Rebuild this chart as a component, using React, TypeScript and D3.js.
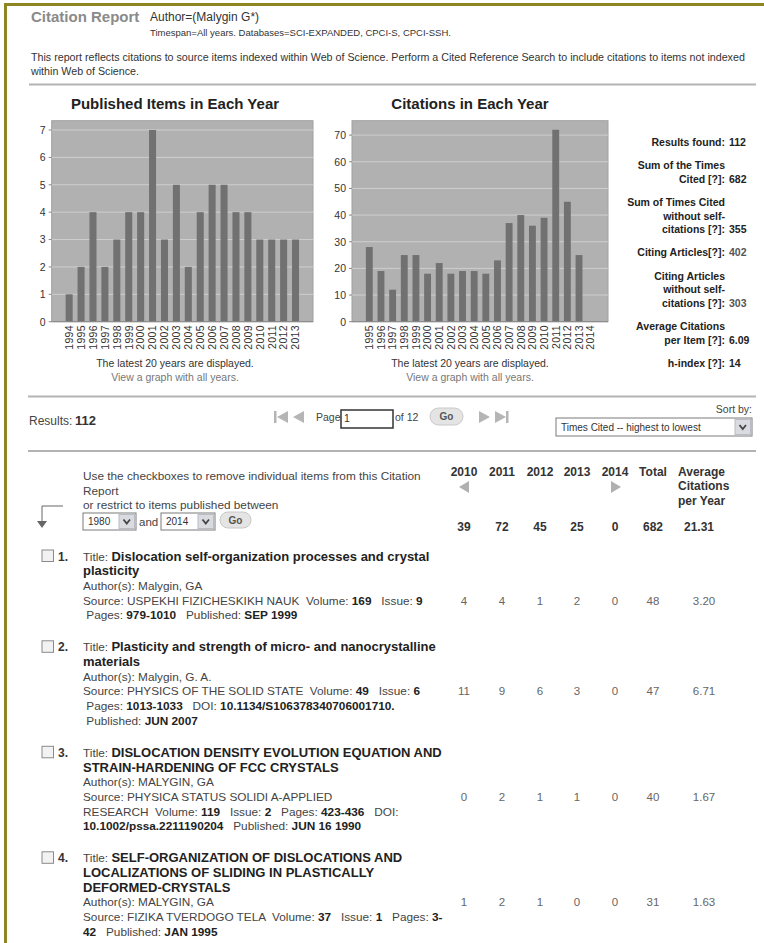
import React from "react";
import * as d3 from "d3";

const FONT = "'Liberation Sans', Arial, Helvetica, sans-serif";

// ---------- chart data ----------
const pubYears = ["1994","1995","1996","1997","1998","1999","2000","2001","2002","2003","2004","2005","2006","2007","2008","2009","2010","2011","2012","2013"];
const pubCounts = [1,2,4,2,3,4,4,7,3,5,2,4,5,5,4,4,3,3,3,3];
const pubTicks = [0,1,2,3,4,5,6,7];

const citeYears = ["1995","1996","1997","1998","1999","2000","2001","2002","2003","2004","2005","2006","2007","2008","2009","2010","2011","2012","2013","2014"];
const citeCounts = [28,19,12,25,25,18,22,18,19,19,18,23,37,40,36,39,72,45,25,0];
const citeTicks = [0,10,20,30,40,50,60,70];

// ---------- stats panel ----------
const statLabels = [
  ["Results found:"],
  ["Sum of the Times","Cited [?]:"],
  ["Sum of Times Cited","without self-","citations [?]:"],
  ["Citing Articles[?]:"],
  ["Citing Articles","without self-","citations [?]:"],
  ["Average Citations","per Item [?]:"],
  ["h-index [?]:"],
];
const statValues = ["112","682","355","402","303","6.09","14"];
const statIsLink = [false,false,false,true,true,false,false];

// ---------- table ----------
const colHeads = ["2010","2011","2012","2013","2014","Total"];
const totalsRow = ["39","72","45","25","0","682","21.31"];

type Seg = [string, boolean];
const itemNumbers = ["1.","2.","3.","4."];
const itemTitleLines = [
  ["Dislocation self-organization processes and crystal","plasticity"],
  ["Plasticity and strength of micro- and nanocrystalline","materials"],
  ["DISLOCATION DENSITY EVOLUTION EQUATION AND","STRAIN-HARDENING OF FCC CRYSTALS"],
  ["SELF-ORGANIZATION OF DISLOCATIONS AND","LOCALIZATIONS OF SLIDING IN PLASTICALLY","DEFORMED-CRYSTALS"],
];
const itemAuthors = ["Malygin, GA","Malygin, G. A.","MALYGIN, GA","MALYGIN, GA"];
const itemSourceLines: Seg[][][] = [
  [
    [["Source: USPEKHI FIZICHESKIKH NAUK  Volume: ",false],["169",true],["   Issue: ",false],["9",true]],
    [[" Pages: ",false],["979-1010",true],["   Published: ",false],["SEP 1999",true]],
  ],
  [
    [["Source: PHYSICS OF THE SOLID STATE  Volume: ",false],["49",true],["   Issue: ",false],["6",true]],
    [[" Pages: ",false],["1013-1033",true],["   DOI: ",false],["10.1134/S106378340706001710.",true]],
    [[" Published: ",false],["JUN 2007",true]],
  ],
  [
    [["Source: PHYSICA STATUS SOLIDI A-APPLIED",false]],
    [["RESEARCH  Volume: ",false],["119",true],["   Issue: ",false],["2",true],["   Pages: ",false],["423-436",true],["   DOI:",false]],
    [["10.1002/pssa.2211190204",true],["   Published: ",false],["JUN 16 1990",true]],
  ],
  [
    [["Source: FIZIKA TVERDOGO TELA  Volume: ",false],["37",true],["   Issue: ",false],["1",true],["   Pages: ",false],["3-",true]],
    [["42",true],["   Published: ",false],["JAN 1995",true]],
  ],
];
const itemCites = [
  ["4","4","1","2","0","48","3.20"],
  ["11","9","6","3","0","47","6.71"],
  ["0","2","1","1","0","40","1.67"],
  ["1","2","1","0","0","31","1.63"],
];

const colX = [464, 502, 540, 577, 615, 653, 699];

type Plot = { l: number; r: number; t: number; b: number };

function BarChart(props: { years: string[]; values: number[]; ticks: number[]; yMax: number; plot: Plot; title: string; cx: number }) {
  const { years, values, ticks, yMax, plot, title, cx } = props;
  const x = d3.scaleBand<string>().domain(years).range([plot.l + 11.5, plot.r - 11.5]).paddingInner(0.41).paddingOuter(0.205);
  const y = d3.scaleLinear().domain([0, yMax]).range([plot.b, plot.t]);
  const bw = x.bandwidth();
  return (
    <g>
      <text x={cx} y={109} textAnchor="middle" fontSize={15} fontWeight="bold" fill="#222">{title}</text>
      <rect x={plot.l} y={plot.t} width={plot.r - plot.l} height={plot.b - plot.t} fill="#b1b1b1" stroke="#a0a0a0" />
      {ticks.map((t) => (
        <g key={t}>
          {t > 0 && <line x1={plot.l} x2={plot.r} y1={y(t)} y2={y(t)} stroke="#cfcfcf" strokeWidth={1} />}
          <line x1={plot.l - 3} x2={plot.l} y1={y(t)} y2={y(t)} stroke="#888" />
          <text x={plot.l - 6} y={y(t) + 3.8} textAnchor="end" fontSize={10.5} fill="#333">{t}</text>
        </g>
      ))}
      {years.map((yr, i) => (
        <rect key={yr} x={x(yr)} y={y(values[i])} width={bw} height={plot.b - y(values[i])} fill="#717171" />
      ))}
      <line x1={plot.l} x2={plot.r} y1={plot.b} y2={plot.b} stroke="#888" />
      {years.map((yr) => (
        <text key={"l" + yr} transform={`translate(${(x(yr) as number) + bw / 2 + 3.8},${plot.b + 3.5}) rotate(-90)`} textAnchor="end" fontSize={10.5} fill="#333" letterSpacing={0.3}>{yr}</text>
      ))}
      <text x={cx} y={367} textAnchor="middle" fontSize={10.5} fill="#333">The latest 20 years are displayed.</text>
      <text x={cx} y={381} textAnchor="middle" fontSize={10.5} fill="#777">View a graph with all years.</text>
    </g>
  );
}

function Checkbox(props: { x: number; y: number }) {
  return <rect x={props.x} y={props.y} width={11.5} height={11.5} fill="#f2f2f2" stroke="#8a8a8a" strokeWidth={1} />;
}

function GoButton(props: { x: number; y: number; w: number; h: number }) {
  const { x, y, w, h } = props;
  return (
    <g>
      <rect x={x} y={y} width={w} height={h} rx={h / 2} fill="#e4e4e4" stroke="#c8c8c8" />
      <text x={x + w / 2} y={y + h / 2 + 3.5} textAnchor="middle" fontSize={10} fontWeight="bold" fill="#555">Go</text>
    </g>
  );
}

function Select(props: { x: number; y: number; w: number; h: number; label: string }) {
  const { x, y, w, h, label } = props;
  const bx = x + w - 17;
  return (
    <g>
      <rect x={x} y={y} width={w} height={h} fill="#fff" stroke="#7a7a7a" />
      <text x={x + 5} y={y + h / 2 + 3.5} fontSize={10} fill="#333">{label}</text>
      <rect x={bx} y={y + 1.5} width={15.5} height={h - 3} fill="#d9dbe0" stroke="#b9bcc4" />
      <path d={`M${bx + 4.5},${y + h / 2 - 2} L${bx + 7.75},${y + h / 2 + 2} L${bx + 11},${y + h / 2 - 2}`} fill="none" stroke="#444" strokeWidth={1.8} />
    </g>
  );
}

function Segs(props: { x: number; y: number; segs: Seg[]; size: number; boldSize?: number }) {
  const { x, y, segs, size, boldSize } = props;
  return (
    <text x={x} y={y} fontSize={size} fill="#444" style={{ whiteSpace: "pre" }}>
      {segs.map((s, i) => (
        <tspan key={i} fontWeight={s[1] ? "bold" : "normal"} fill={s[1] ? "#222" : "#444"} fontSize={s[1] && boldSize ? boldSize : size}>{s[0]}</tspan>
      ))}
    </text>
  );
}

export default function App() {
  const plot1: Plot = { l: 51.7, r: 313, t: 120.7, b: 321.7 };
  const plot2: Plot = { l: 352, r: 608, t: 120.7, b: 321.7 };

  // stats positions
  const statLineH = 13.3;
  const statGap = 23.6;
  let sy = 141.7;
  const statBlocks = statLabels.map((lines, i) => {
    const start = sy;
    sy = start + (lines.length - 1) * statLineH + statGap;
    return { lines, start, i };
  });

  // item positions
  const lineH = 14.7;
  const itemGap = 32;
  let iy = 556;
  const items = itemTitleLines.map((titles, i) => {
    const lines: { segs: Seg[]; kind: string }[] = [];
    titles.forEach((t, k) => lines.push({ segs: k === 0 ? [["Title: ", false], [t, true]] : [[t, true]], kind: "title" }));
    lines.push({ segs: [["Author(s): " + itemAuthors[i], false]], kind: "plain" });
    itemSourceLines[i].forEach((s) => lines.push({ segs: s, kind: "plain" }));
    const start = iy;
    iy = start + (lines.length - 1) * lineH + itemGap;
    return { lines, start, i };
  });

  return (
    <svg width={764} height={943} viewBox="0 0 764 943" style={{ position: "absolute", left: 0, top: 0, background: "#fff" }} fontFamily={FONT}>
      <rect x={0} y={0} width={764} height={943} fill="#fff" />
      {/* olive frame */}
      <rect x={4} y={3} width={760} height={3} fill="#8d8623" />
      <rect x={4} y={3} width={3} height={940} fill="#8d8623" />

      {/* header */}
      <text x={31} y={22} fontSize={15} fill="#8a8a8a" fontWeight="bold">Citation Report</text>
      <text x={150} y={21} fontSize={12} fill="#333">Author=(Malygin G*)</text>
      <text x={150} y={36} fontSize={9.5} fill="#333">Timespan=All years. Databases=SCI-EXPANDED, CPCI-S, CPCI-SSH.</text>
      <text x={31} y={60.5} fontSize={10.7} fill="#333">This report reflects citations to source items indexed within Web of Science. Perform a Cited Reference Search to include citations to items not indexed</text>
      <text x={31} y={74.5} fontSize={10.7} fill="#333">within Web of Science.</text>
      <line x1={29} x2={756} y1={84.5} y2={84.5} stroke="#b3b3b3" strokeWidth={2} />

      <BarChart years={pubYears} values={pubCounts} ticks={pubTicks} yMax={7.34} plot={plot1} title="Published Items in Each Year" cx={175} />
      <BarChart years={citeYears} values={citeCounts} ticks={citeTicks} yMax={75.4} plot={plot2} title="Citations in Each Year" cx={470} />

      {/* stats */}
      {statBlocks.map((b) => (
        <g key={b.i}>
          {b.lines.map((ln, k) => (
            <text key={k} x={725} y={b.start + k * statLineH + 4} textAnchor="end" fontSize={10.5} fontWeight="bold" fill="#222">{ln}</text>
          ))}
          <text x={729} y={b.start + (b.lines.length - 1) * statLineH + 4} fontSize={10.5} fontWeight="bold" fill={statIsLink[b.i] ? "#555" : "#222"}>{statValues[b.i]}</text>
        </g>
      ))}

      {/* results bar */}
      <line x1={28} x2={756} y1={396.5} y2={396.5} stroke="#b3b3b3" strokeWidth={2} />
      <text x={29} y={424.5} fontSize={12} fill="#444">Results:</text>
      <text x={75} y={424.5} fontSize={13} fontWeight="bold" fill="#333">112</text>
      {/* pagination */}
      <g fill="#b5b5b5">
        <rect x={274} y={411} width={2.5} height={12} />
        <path d="M277,417 L288,411 L288,423 Z" />
        <path d="M293,417 L304,411 L304,423 Z" />
        <path d="M479,411 L490,417 L479,423 Z" />
        <path d="M495,411 L506,417 L495,423 Z" />
        <rect x={506} y={411} width={2.5} height={12} />
      </g>
      <text x={316} y={421} fontSize={10.5} fill="#444">Page</text>
      <rect x={341} y={410} width={52} height={18} fill="#fff" stroke="#333" strokeWidth={1.5} />
      <text x={344} y={422} fontSize={10.5} fill="#333">1</text>
      <text x={395} y={421} fontSize={10.5} fill="#444">of 12</text>
      <GoButton x={430} y={408} w={33} h={17} />
      <text x={752} y={413} textAnchor="end" fontSize={10.5} fill="#444">Sort by:</text>
      <Select x={556} y={418} w={196} h={18} label="Times Cited -- highest to lowest" />
      <line x1={28} x2={756} y1={451} y2={451} stroke="#b3b3b3" strokeWidth={2} />

      {/* table header */}
      <text x={83} y={480} fontSize={11.8} fill="#444">Use the checkboxes to remove individual items from this Citation</text>
      <text x={83} y={494.5} fontSize={11.8} fill="#444">Report</text>
      <text x={83} y={509} fontSize={11.8} fill="#444">or restrict to items published between</text>
      <path d="M63,506 L42,506 L42,522" fill="none" stroke="#666" strokeWidth={1} />
      <path d="M37,521 L47,521 L42,528 Z" fill="#666" />
      <Select x={83} y={513} w={53} h={17} label="1980" />
      <text x={139} y={525.5} fontSize={11.5} fill="#444">and</text>
      <Select x={161} y={513} w={54} h={17} label="2014" />
      <GoButton x={220} y={512} w={31} h={16} />

      {colHeads.map((h, i) => (
        <text key={h} x={colX[i]} y={475.5} textAnchor="middle" fontSize={12} fontWeight="bold" fill="#333">{h}</text>
      ))}
      <path d={`M${colX[0] - 5},487 L${colX[0] + 5},481 L${colX[0] + 5},493 Z`} fill="#b0b0b0" />
      <path d={`M${colX[4] - 4},481 L${colX[4] + 6},487 L${colX[4] - 4},493 Z`} fill="#b0b0b0" />
      <text x={678} y={475.5} fontSize={12} fontWeight="bold" fill="#333">Average</text>
      <text x={678} y={490} fontSize={12} fontWeight="bold" fill="#333">Citations</text>
      <text x={678} y={504.5} fontSize={12} fontWeight="bold" fill="#333">per Year</text>
      {totalsRow.map((v, i) => (
        <text key={i} x={colX[i]} y={530.5} textAnchor="middle" fontSize={12} fontWeight="bold" fill="#333">{v}</text>
      ))}

      {/* items */}
      {items.map((it) => (
        <g key={it.i}>
          <Checkbox x={42} y={it.start - 6} />
          <text x={58} y={it.start + 4.5} fontSize={12} fontWeight="bold" fill="#333">{itemNumbers[it.i]}</text>
          {it.lines.map((ln, k) => (
            <Segs key={k} x={83} y={it.start + k * lineH + 4.5} segs={ln.segs} size={11.8} boldSize={ln.kind === "title" ? 13 : 11.8} />
          ))}
          {itemCites[it.i].map((v, c) => (
            <text key={c} x={colX[c] + (c === 6 ? 5 : 0)} y={it.start + 3 * lineH + 4.5} textAnchor="middle" fontSize={11.5} fill="#666">{v}</text>
          ))}
        </g>
      ))}
    </svg>
  );
}
